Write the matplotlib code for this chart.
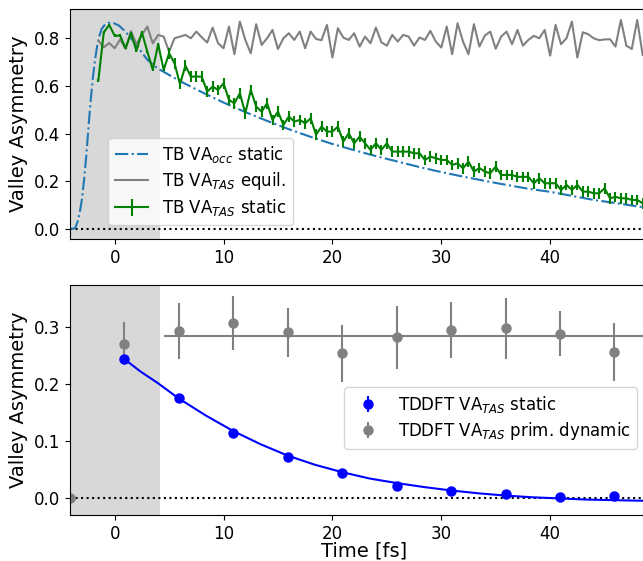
import numpy as np
import matplotlib
matplotlib.use("Agg")
import matplotlib.pyplot as plt

plt.rcParams["font.size"] = 12

# ---- top panel: tight-binding results ----
# VA_occ static (smooth curve)
occ_t = [-4.1, -3.8, -3.6, -3.4, -3.2, -3.0, -2.8, -2.6, -2.4, -2.2, -2.0, -1.8,
         -1.6, -1.4, -1.2, -1.0, -0.6, -0.3, 0.0, 0.4, 0.8, 1.2, 1.6, 2.0, 2.5,
         3.0, 3.5, 4.0, 6, 8, 10, 12, 14, 16, 18, 20, 22, 24, 26, 28, 30, 32,
         34, 36, 38, 40, 42, 44, 46, 48, 50]
occ_va = [0.0, 0.0, 0.005, 0.03, 0.07, 0.125, 0.21, 0.31, 0.43, 0.54, 0.635, 0.71,
          0.77, 0.81, 0.838, 0.852, 0.864, 0.866, 0.862, 0.853, 0.836, 0.817, 0.795,
          0.771, 0.74, 0.71, 0.69, 0.672, 0.620, 0.574, 0.530, 0.490, 0.453, 0.418,
          0.386, 0.356, 0.330, 0.305, 0.282, 0.259, 0.238, 0.219, 0.201, 0.184,
          0.168, 0.155, 0.138, 0.121, 0.108, 0.094, 0.082]

tb_t = np.arange(-1.5, 48.75, 0.5)

# VA_TAS equilibrium
equil_va = [0.790, 0.762, 0.780, 0.758, 0.795, 0.756, 0.830, 0.775, 0.815, 0.849,
            0.779, 0.814, 0.807, 0.744, 0.800, 0.807, 0.814, 0.800, 0.828, 0.804,
            0.782, 0.845, 0.779, 0.758, 0.849, 0.733, 0.870, 0.793, 0.737, 0.859,
            0.772, 0.800, 0.835, 0.755, 0.800, 0.821, 0.793, 0.828, 0.758, 0.828,
            0.797, 0.792, 0.856, 0.719, 0.842, 0.803, 0.793, 0.821, 0.765, 0.807,
            0.779, 0.845, 0.783, 0.769, 0.814, 0.786, 0.814, 0.807, 0.769, 0.803,
            0.793, 0.831, 0.786, 0.761, 0.849, 0.733, 0.863, 0.786, 0.733, 0.859,
            0.765, 0.811, 0.828, 0.756, 0.807, 0.828, 0.775, 0.835, 0.769, 0.793,
            0.810, 0.800, 0.835, 0.727, 0.856, 0.775, 0.800, 0.870, 0.719, 0.825,
            0.817, 0.800, 0.792, 0.795, 0.796, 0.765, 0.877, 0.769, 0.755, 0.877,
            0.730]

# VA_TAS static
static_va = [0.622, 0.825, 0.856, 0.811, 0.811, 0.758, 0.821, 0.747, 0.825, 0.744,
             0.668, 0.775, 0.667, 0.737, 0.695, 0.607, 0.685, 0.639, 0.639, 0.639,
             0.576, 0.597, 0.583, 0.611, 0.541, 0.527, 0.569, 0.485, 0.583, 0.513,
             0.492, 0.527, 0.457, 0.492, 0.436, 0.471, 0.450, 0.457, 0.443, 0.464,
             0.395, 0.429, 0.408, 0.408, 0.429, 0.366, 0.401, 0.359, 0.387, 0.359,
             0.331, 0.359, 0.331, 0.359, 0.324, 0.324, 0.324, 0.324, 0.317, 0.317,
             0.289, 0.303, 0.296, 0.289, 0.289, 0.268, 0.275, 0.254, 0.282, 0.240,
             0.255, 0.240, 0.233, 0.261, 0.226, 0.226, 0.226, 0.218, 0.218, 0.218,
             0.191, 0.212, 0.191, 0.191, 0.191, 0.163, 0.184, 0.163, 0.184, 0.156,
             0.156, 0.149, 0.149, 0.170, 0.128, 0.134, 0.128, 0.128, 0.121, 0.121,
             0.107]
static_err = [0.005] * 13 + [0.022] * 88

# ---- bottom panel: TDDFT results ----
td_t = [0.9, 5.9, 10.9, 15.9, 20.9, 25.9, 30.9, 35.9, 40.9, 45.9]
td_static = [0.243, 0.175, 0.114, 0.071, 0.043, 0.021, 0.012, 0.007, 0.002, 0.0035]
td_static_err = [0.003, 0.003, 0.002, 0.002, 0.002, 0.002, 0.002, 0.002, 0.002, 0.002]

dyn_t = [-4.1, 0.9, 5.9, 10.9, 15.9, 20.9, 25.9, 30.9, 35.9, 40.9, 45.9]
td_dyn = [0.0, 0.270, 0.292, 0.306, 0.290, 0.253, 0.281, 0.294, 0.297, 0.288, 0.256]
td_dyn_err = [0.0, 0.038, 0.049, 0.047, 0.043, 0.050, 0.055, 0.049, 0.054, 0.040, 0.051]
dyn_mean = 0.284

# exponential fit to the static TDDFT points
fit_t = [0.9, 2.4, 3.9, 5.9, 8.4, 10.9, 13.4, 15.9, 18.4, 20.9, 23.4, 25.9, 28.4,
         30.9, 33.4, 35.9, 38.4, 40.9, 43.4, 45.9, 48.4, 50.0]
fit_va = [0.243, 0.221, 0.202, 0.174, 0.144, 0.117, 0.094, 0.074, 0.058, 0.045,
          0.034, 0.026, 0.019, 0.013, 0.008, 0.004, 0.001, -0.001, -0.003, -0.004,
          -0.005, -0.006]

pulse_end = 4.2
xmin, xmax = -4.1, 50
xticks = [0, 10, 20, 30, 40]

fig = plt.figure(figsize=(6.43, 5.61), dpi=100)
ax1 = fig.add_axes([0.1089, 0.574, 0.916, 0.410])
ax2 = fig.add_axes([0.1089, 0.082, 0.916, 0.410])

# top
ax1.axvspan(-10, pulse_end, color="gray", alpha=0.3, lw=0)
ax1.axhline(0, color="black", ls=":", lw=1.5)
ax1.plot(occ_t, occ_va, "-.", color="tab:blue", lw=1.5, label=r"TB VA$_{occ}$ static")
ax1.plot(tb_t, equil_va, "-", color="gray", lw=1.5, label=r"TB VA$_{TAS}$ equil.")
ax1.errorbar(tb_t, static_va, yerr=static_err, color="green", lw=1.5,
             label=r"TB VA$_{TAS}$ static")
ax1.set_xlim(xmin, xmax)
ax1.set_ylim(-0.043, 0.923)
ax1.set_yticks([0.0, 0.2, 0.4, 0.6, 0.8])
ax1.set_xticks(xticks)
ax1.set_ylabel("Valley Asymmetry", fontsize=14)
ax1.legend(loc="lower left", bbox_to_anchor=(0.065, 0.061), borderaxespad=0,
           labelspacing=0.3)

# bottom
ax2.axvspan(-10, pulse_end, color="gray", alpha=0.3, lw=0)
ax2.axhline(0, color="black", ls=":", lw=1.5)
ax2.plot(fit_t, fit_va, "-", color="blue", lw=1.5)
ax2.hlines(dyn_mean, 4.5, 60, color="gray", lw=1.5)
ax2.errorbar(td_t, td_static, yerr=td_static_err, fmt="o", color="blue", ms=6.5,
             label=r"TDDFT VA$_{TAS}$ static")
ax2.errorbar(dyn_t, td_dyn, yerr=td_dyn_err, fmt="o", color="gray", ms=6.5,
             label=r"TDDFT VA$_{TAS}$ prim. dynamic")
ax2.set_xlim(xmin, xmax)
ax2.set_ylim(-0.030, 0.373)
ax2.set_yticks([0.0, 0.1, 0.2, 0.3])
ax2.set_xticks(xticks)
ax2.set_ylabel("Valley Asymmetry", fontsize=14)
ax2.set_xlabel("Time [fs]", fontsize=14, labelpad=-1)
ax2.legend(loc="center right", bbox_to_anchor=(0.977, 0.422), labelspacing=0.3)

fig.savefig("out.png", dpi=100)
